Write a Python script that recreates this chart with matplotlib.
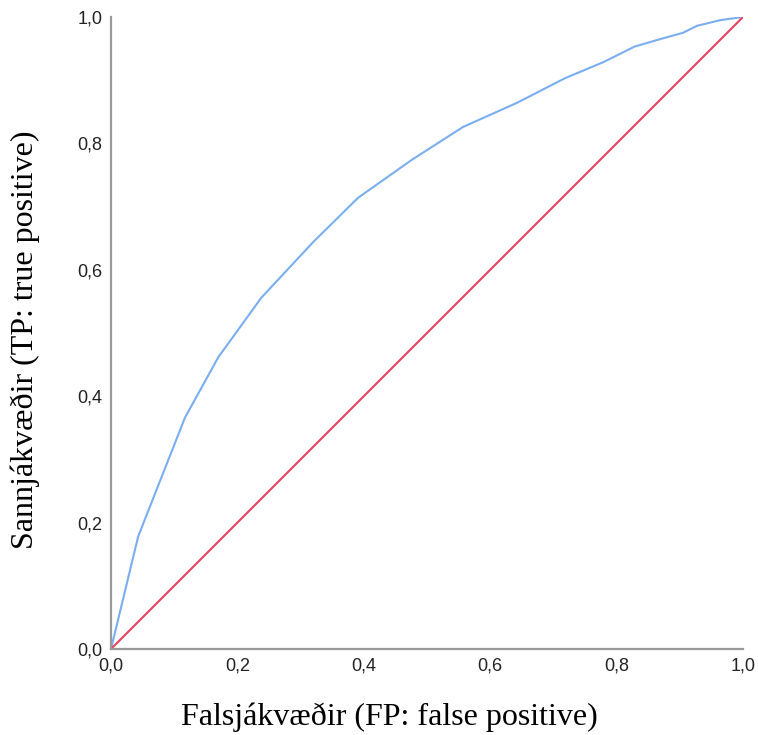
import matplotlib.pyplot as plt

# ROC curve
fp_rate = [0.0, 0.043, 0.117, 0.170, 0.238, 0.320, 0.391, 0.476, 0.557,
           0.642, 0.718, 0.780, 0.828, 0.869, 0.905, 0.927, 0.964, 1.0]
tp_rate = [0.0, 0.178, 0.366, 0.462, 0.556, 0.644, 0.714, 0.774, 0.826,
           0.864, 0.903, 0.929, 0.953, 0.965, 0.975, 0.986, 0.995, 1.0]
diag = [0.0, 1.0]

ticks = [0.0, 0.2, 0.4, 0.6, 0.8, 1.0]
tick_labels = ['0,0', '0,2', '0,4', '0,6', '0,8', '1,0']

fig = plt.figure(figsize=(7.58, 7.35), dpi=100)
ax = fig.add_axes([111/758, 1 - 649/735, 632/758, 632/735])

ax.plot(fp_rate, tp_rate, color='#7aaef0', lw=1.5, solid_joinstyle='round')
ax.plot(diag, diag, color='#e8405e', lw=1.5)

ax.set_xlim(0, 1)
ax.set_ylim(0, 1)
ax.set_xticks(ticks)
ax.set_xticklabels(tick_labels)
ax.set_yticks(ticks)
ax.set_yticklabels(tick_labels)
ax.tick_params(length=0, labelsize=13, labelcolor='#222222',
               labelfontfamily='Liberation Sans')
ax.tick_params(axis='x', pad=6)
ax.tick_params(axis='y', pad=6)

for s in ['top', 'right']:
    ax.spines[s].set_visible(False)
for s in ['left', 'bottom']:
    ax.spines[s].set_color('#999999')
    ax.spines[s].set_linewidth(1.6)

ax.set_xlabel('Falsjákvæðir (FP: false positive)', family='Liberation Serif',
              fontsize=23, va='center')
ax.set_ylabel('Sannjákvæðir (TP: true positive)', family='Liberation Serif',
              fontsize=23, va='center')
ax.xaxis.set_label_coords((389 - 111) / 632, (649 - 717) / 632)
ax.yaxis.set_label_coords((25 - 111) / 632, (649 - 340) / 632)

fig.savefig('out.png', dpi=100)
